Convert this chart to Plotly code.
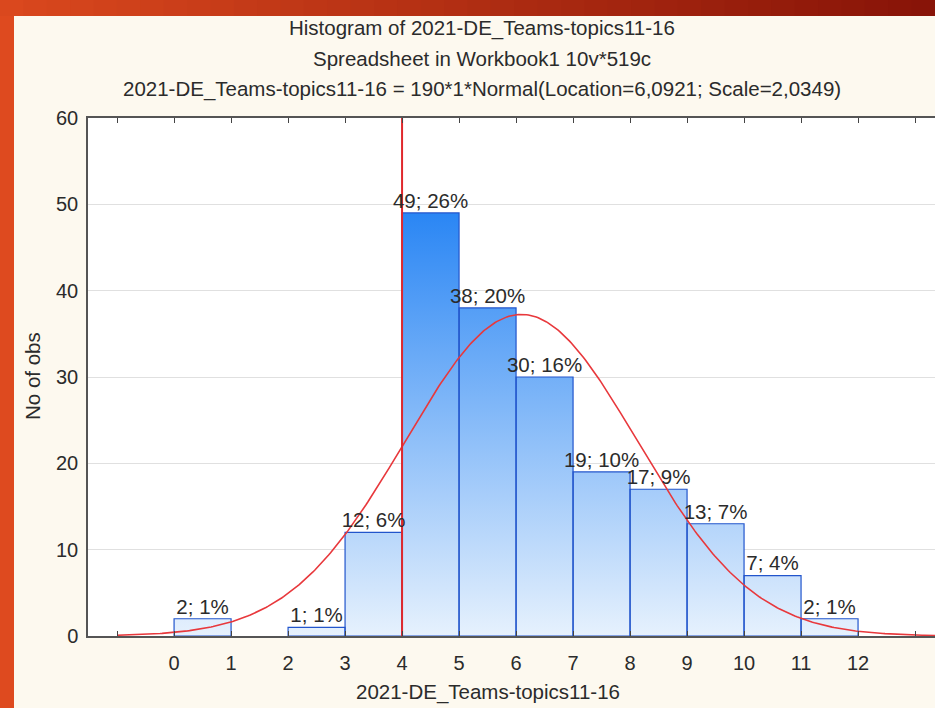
import plotly.graph_objects as go
import numpy as np

# ---- data ----
bin_left = [0, 1, 2, 3, 4, 5, 6, 7, 8, 9, 10, 11]
bin_right = [1, 2, 3, 4, 5, 6, 7, 8, 9, 10, 11, 12]
counts = [2, 0, 1, 12, 49, 38, 30, 19, 17, 13, 7, 2]
n_total = 190
fit_location = 6.0921
fit_scale = 2.0349
marker_x = 4
x_tick_vals = list(range(-1, 14))
x_tick_text = [str(v) if 0 <= v <= 12 else "" for v in x_tick_vals]
y_tick_vals = [0, 10, 20, 30, 40, 50, 60]

title_lines = [
    "Histogram of 2021-DE_Teams-topics11-16",
    "Spreadsheet in Workbook1 10v*519c",
    "2021-DE_Teams-topics11-16 = 190*1*Normal(Location=6,0921; Scale=2,0349)",
]
x_title = "2021-DE_Teams-topics11-16"
y_title = "No of obs"

# ---- layout geometry (pixels) ----
W, H = 935, 708
L, R, T, B = 88, 0, 118, 72
PW, PH = W - L - R, H - T - B

def px(x):
    return (x - L) / PW

def py(y):
    return (H - B - y) / PH

FONT = "Liberation Sans, Arial, sans-serif"
TXT = "#2b2b2b"

fig = go.Figure()

# bars as polygons with vertical gradient
xs, ys = [], []
for a, b, c in zip(bin_left, bin_right, counts):
    if c == 0:
        continue
    xs += [a, a, b, b, a, None]
    ys += [0, c, c, 0, 0, None]
fig.add_trace(go.Scatter(
    x=xs, y=ys, mode="lines", fill="toself",
    line=dict(color="#2255cc", width=1.2),
    fillgradient=dict(type="vertical", start=0, stop=max(counts),
                      colorscale=[[0, "#e6f1fd"], [1, "#2a86f4"]]),
    hoverinfo="skip", showlegend=False,
))

# normal fit curve
xc = np.linspace(-1, 13.4, 420)
yc = n_total * 1 * np.exp(-0.5 * ((xc - fit_location) / fit_scale) ** 2) / (fit_scale * np.sqrt(2 * np.pi))
fig.add_trace(go.Scatter(x=xc, y=yc, mode="lines",
                         line=dict(color="#e8383c", width=1.6),
                         hoverinfo="skip", showlegend=False))

# vertical marker line
fig.add_trace(go.Scatter(x=[marker_x, marker_x], y=[0, 60], mode="lines",
                         line=dict(color="#e0282c", width=2),
                         hoverinfo="skip", showlegend=False))

# bar labels
lx, ly, lt = [], [], []
for a, b, c in zip(bin_left, bin_right, counts):
    if c == 0:
        continue
    lx.append((a + b) / 2)
    ly.append(c)
    lt.append(f"{c}; {round(100 * c / n_total)}%")
fig.add_trace(go.Scatter(x=lx, y=ly, mode="text", text=lt,
                         textposition="top center",
                         textfont=dict(family=FONT, size=20.5, color=TXT),
                         hoverinfo="skip", showlegend=False))

shapes = []
# left orange strip
shapes.append(dict(type="rect", xref="paper", yref="paper",
                   x0=px(0), x1=px(14), y0=py(H), y1=py(0),
                   fillcolor="#de4a1f", line=dict(width=0), layer="above"))
# top gradient strip
nseg = 40
c0 = np.array([0xda, 0x48, 0x1e])
c1 = np.array([0x88, 0x14, 0x08])
for i in range(nseg):
    f = i / (nseg - 1)
    r_, g_, b_ = [int(v) for v in (c0 + (c1 - c0) * f)]
    shapes.append(dict(type="rect", xref="paper", yref="paper",
                       x0=px(W * i / nseg), x1=px(W * (i + 1) / nseg + 1),
                       y0=py(16), y1=py(-2),
                       fillcolor=f"rgb({r_},{g_},{b_})",
                       line=dict(width=0), layer="above"))

annotations = []
for text, yy in zip(title_lines, [28, 58, 89]):
    annotations.append(dict(text=text, x=px(482), y=py(yy), xref="paper", yref="paper",
                            showarrow=False, xanchor="center", yanchor="middle",
                            font=dict(family=FONT, size=20.5, color=TXT)))
annotations.append(dict(text=x_title, x=px(488), y=py(692), xref="paper", yref="paper",
                        showarrow=False, xanchor="center", yanchor="middle",
                        font=dict(family=FONT, size=20.5, color=TXT)))
annotations.append(dict(text=y_title, x=px(32), y=py(376), xref="paper", yref="paper",
                        showarrow=False, xanchor="center", yanchor="middle", textangle=-90,
                        font=dict(family=FONT, size=20.5, color=TXT)))

fig.update_layout(
    width=W, height=H,
    margin=dict(l=L, r=R, t=T, b=B),
    paper_bgcolor="#fdf9ef",
    plot_bgcolor="#ffffff",
    shapes=shapes,
    annotations=annotations,
    font=dict(family=FONT, size=20, color=TXT),
    xaxis=dict(range=[-1.51, 13.35], tickvals=x_tick_vals, ticktext=x_tick_text,
               ticks="inside", ticklen=5, tickcolor="#444", tickwidth=1,
               showline=True, linecolor="#555", linewidth=2, mirror="ticks",
               showgrid=False, zeroline=False, ticklabelstandoff=8,
               tickfont=dict(family=FONT, size=20, color=TXT)),
    yaxis=dict(range=[0, 60], tickvals=y_tick_vals, ticks="",
               showline=True, linecolor="#555", linewidth=1.5,
               showgrid=True, gridcolor="#e0e0e0", gridwidth=1, zeroline=False,
               ticklabelstandoff=4,
               tickfont=dict(family=FONT, size=20, color=TXT)),
)

fig.write_html("out.html",
               config={"displayModeBar": False},
               post_script="document.body.style.margin='0';")
